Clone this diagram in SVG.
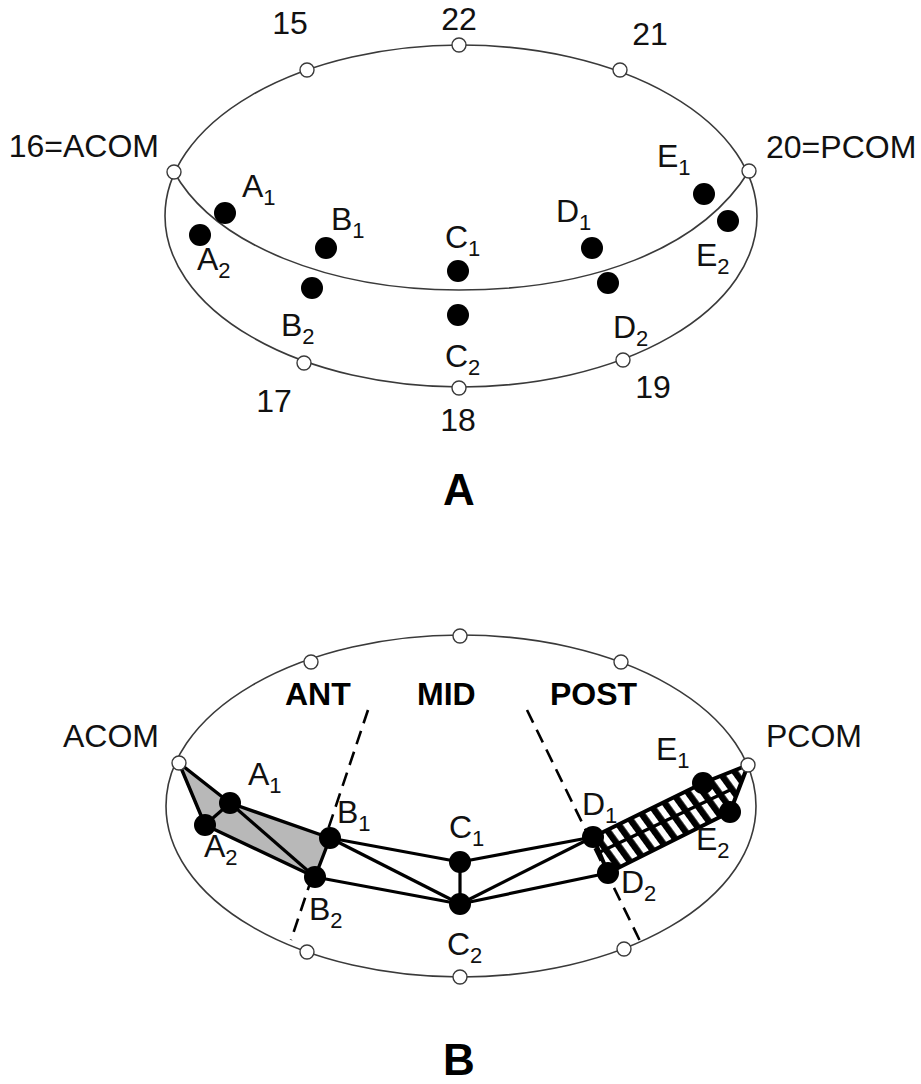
<svg xmlns="http://www.w3.org/2000/svg" width="921" height="1084" viewBox="0 0 921 1084">
  <style>
    .outline { fill: none; stroke: #3a3a3a; stroke-width: 1.6; }
    .port { fill: #ffffff; stroke: #3a3a3a; stroke-width: 1.4; }
    .pt { fill: #000000; }
    .lbl { font-family: "Liberation Sans", Arial, sans-serif; font-size: 32px; fill: #111111; }
    .sub { font-size: 22px; }
    .zone { font-family: "Liberation Sans", Arial, sans-serif; font-size: 32px; font-weight: bold; fill: #000000; }
    .title { font-family: "Liberation Sans", Arial, sans-serif; font-size: 44px; font-weight: bold; fill: #000000; }
    .edge { stroke: #000000; stroke-width: 3.2; fill: none; stroke-linejoin: round; }
    .region-gray { fill: #b8b8b8; stroke: #000000; stroke-width: 3.4; stroke-linejoin: round; }
    .region-hatch { fill: url(#hatch); stroke: #000000; stroke-width: 4; stroke-linejoin: round; }
    .divider { stroke: #000000; stroke-width: 2.6; stroke-dasharray: 14 8; fill: none; }
  </style>
  <defs>
    <pattern id="hatch" patternUnits="userSpaceOnUse" width="12.5" height="12.5" patternTransform="rotate(-36)">
      <rect x="0" y="0" width="12.5" height="12.5" fill="#ffffff"/>
      <rect x="0" y="0" width="6.5" height="12.5" fill="#000000"/>
    </pattern>
  </defs>

  <!-- ===== Panel A ===== -->
  <g id="panelA">
    <g id="outlineA">
      <ellipse class="outline" cx="461" cy="216" rx="296" ry="171"/>
      <path class="outline" d="M174,172 C215,245 330,290 459,290 C590,290 700,250 749,171"/>
    </g>

    <g id="ports-A">
      <g id="n15"><circle class="port" cx="307" cy="70" r="7"/><text class="lbl" x="290" y="34" text-anchor="middle">15</text></g>
      <g id="n22"><circle class="port" cx="459" cy="45" r="7"/><text class="lbl" x="459" y="30" text-anchor="middle">22</text></g>
      <g id="n21"><circle class="port" cx="620" cy="70" r="7"/><text class="lbl" x="650" y="45" text-anchor="middle">21</text></g>
      <g id="n16"><circle class="port" cx="174" cy="172" r="7"/><text class="lbl" x="159" y="157" text-anchor="end">16=ACOM</text></g>
      <g id="n20"><circle class="port" cx="749" cy="171" r="7"/><text class="lbl" x="766" y="158">20=PCOM</text></g>
      <g id="n17"><circle class="port" cx="304" cy="363" r="7"/><text class="lbl" x="274" y="412" text-anchor="middle">17</text></g>
      <g id="n18"><circle class="port" cx="459" cy="388" r="7"/><text class="lbl" x="458" y="431" text-anchor="middle">18</text></g>
      <g id="n19"><circle class="port" cx="623" cy="360" r="7"/><text class="lbl" x="653" y="398" text-anchor="middle">19</text></g>
    </g>

    <g id="points-A">
      <g id="a-A1"><circle class="pt" cx="225" cy="213" r="11"/><text class="lbl" x="242" y="197">A<tspan class="sub" dy="8">1</tspan></text></g>
      <g id="a-A2"><circle class="pt" cx="200" cy="235" r="11"/><text class="lbl" x="197" y="270">A<tspan class="sub" dy="8">2</tspan></text></g>
      <g id="a-B1"><circle class="pt" cx="326" cy="248" r="11"/><text class="lbl" x="331" y="230">B<tspan class="sub" dy="8">1</tspan></text></g>
      <g id="a-B2"><circle class="pt" cx="312" cy="288" r="11"/><text class="lbl" x="281" y="336">B<tspan class="sub" dy="8">2</tspan></text></g>
      <g id="a-C1"><circle class="pt" cx="458" cy="271" r="11"/><text class="lbl" x="445" y="248">C<tspan class="sub" dy="8">1</tspan></text></g>
      <g id="a-C2"><circle class="pt" cx="458" cy="315" r="11"/><text class="lbl" x="445" y="367">C<tspan class="sub" dy="8">2</tspan></text></g>
      <g id="a-D1"><circle class="pt" cx="592" cy="248" r="11"/><text class="lbl" x="556" y="222">D<tspan class="sub" dy="8">1</tspan></text></g>
      <g id="a-D2"><circle class="pt" cx="608" cy="283" r="11"/><text class="lbl" x="613" y="338">D<tspan class="sub" dy="8">2</tspan></text></g>
      <g id="a-E1"><circle class="pt" cx="704" cy="194" r="11"/><text class="lbl" x="657" y="167">E<tspan class="sub" dy="8">1</tspan></text></g>
      <g id="a-E2"><circle class="pt" cx="728" cy="221" r="11"/><text class="lbl" x="696" y="266">E<tspan class="sub" dy="8">2</tspan></text></g>
    </g>

    <text class="title" x="459" y="505" text-anchor="middle">A</text>
  </g>

  <!-- ===== Panel B ===== -->
  <g id="panelB">
    <ellipse id="outlineB" class="outline" cx="461" cy="806" rx="295" ry="171"/>

    <g id="zones">
      <text class="zone" x="285" y="705">ANT</text>
      <text class="zone" x="417" y="705">MID</text>
      <text class="zone" x="550" y="705">POST</text>
    </g>

    <g id="connectors">
      <line class="divider" x1="368" y1="710" x2="291" y2="940"/>
      <line class="divider" x1="527" y1="710" x2="641" y2="943"/>

      <!-- anterior region -->
      <polygon class="region-gray" points="179,763 230,803 330,838 315,877 205,825"/>
      <line class="edge" x1="230" y1="803" x2="315" y2="877"/>
      <line class="edge" x1="230" y1="803" x2="205" y2="825"/>

      <!-- posterior region -->
      <polygon class="region-hatch" points="593,837 703,783 748,765 730,812 608,873"/>
      <line class="edge" stroke-width="1.6" x1="600" y1="852" x2="730" y2="790"/>

      <!-- middle links -->
      <line class="edge" x1="330" y1="838" x2="460" y2="862"/>
      <line class="edge" x1="330" y1="838" x2="460" y2="904"/>
      <line class="edge" x1="315" y1="877" x2="460" y2="904"/>
      <line class="edge" x1="460" y1="862" x2="460" y2="904"/>
      <line class="edge" x1="460" y1="862" x2="593" y2="837"/>
      <line class="edge" x1="460" y1="904" x2="593" y2="837"/>
      <line class="edge" x1="460" y1="904" x2="608" y2="873"/>
    </g>

    <g id="ports-B">
      <g id="b-top-left"><circle class="port" cx="311" cy="662" r="7"/></g>
      <g id="b-top"><circle class="port" cx="460" cy="636" r="7"/></g>
      <g id="b-top-right"><circle class="port" cx="621" cy="662" r="7"/></g>
      <g id="b-acom"><circle class="port" cx="179" cy="763" r="7"/><text class="lbl" x="159" y="747" text-anchor="end">ACOM</text></g>
      <g id="b-pcom"><circle class="port" cx="748" cy="765" r="7"/><text class="lbl" x="766" y="747">PCOM</text></g>
      <g id="b-bottom-left"><circle class="port" cx="307" cy="952" r="7"/></g>
      <g id="b-bottom"><circle class="port" cx="460" cy="977" r="7"/></g>
      <g id="b-bottom-right"><circle class="port" cx="624" cy="949" r="7"/></g>
    </g>

    <g id="points-B">
      <g id="b-A1"><circle class="pt" cx="230" cy="803" r="11"/><text class="lbl" x="248" y="785">A<tspan class="sub" dy="8">1</tspan></text></g>
      <g id="b-A2"><circle class="pt" cx="205" cy="825" r="11"/><text class="lbl" x="204" y="857">A<tspan class="sub" dy="8">2</tspan></text></g>
      <g id="b-B1"><circle class="pt" cx="330" cy="838" r="11"/><text class="lbl" x="337" y="823">B<tspan class="sub" dy="8">1</tspan></text></g>
      <g id="b-B2"><circle class="pt" cx="315" cy="877" r="11"/><text class="lbl" x="309" y="920">B<tspan class="sub" dy="8">2</tspan></text></g>
      <g id="b-C1"><circle class="pt" cx="460" cy="862" r="11"/><text class="lbl" x="449" y="838">C<tspan class="sub" dy="8">1</tspan></text></g>
      <g id="b-C2"><circle class="pt" cx="460" cy="904" r="11"/><text class="lbl" x="447" y="955">C<tspan class="sub" dy="8">2</tspan></text></g>
      <g id="b-D1"><circle class="pt" cx="593" cy="837" r="11"/><text class="lbl" x="582" y="815">D<tspan class="sub" dy="8">1</tspan></text></g>
      <g id="b-D2"><circle class="pt" cx="608" cy="873" r="11"/><text class="lbl" x="621" y="893">D<tspan class="sub" dy="8">2</tspan></text></g>
      <g id="b-E1"><circle class="pt" cx="703" cy="783" r="11"/><text class="lbl" x="656" y="760">E<tspan class="sub" dy="8">1</tspan></text></g>
      <g id="b-E2"><circle class="pt" cx="730" cy="812" r="11"/><text class="lbl" x="696" y="850">E<tspan class="sub" dy="8">2</tspan></text></g>
    </g>

    <text class="title" x="459" y="1075" text-anchor="middle">B</text>
  </g>
</svg>
